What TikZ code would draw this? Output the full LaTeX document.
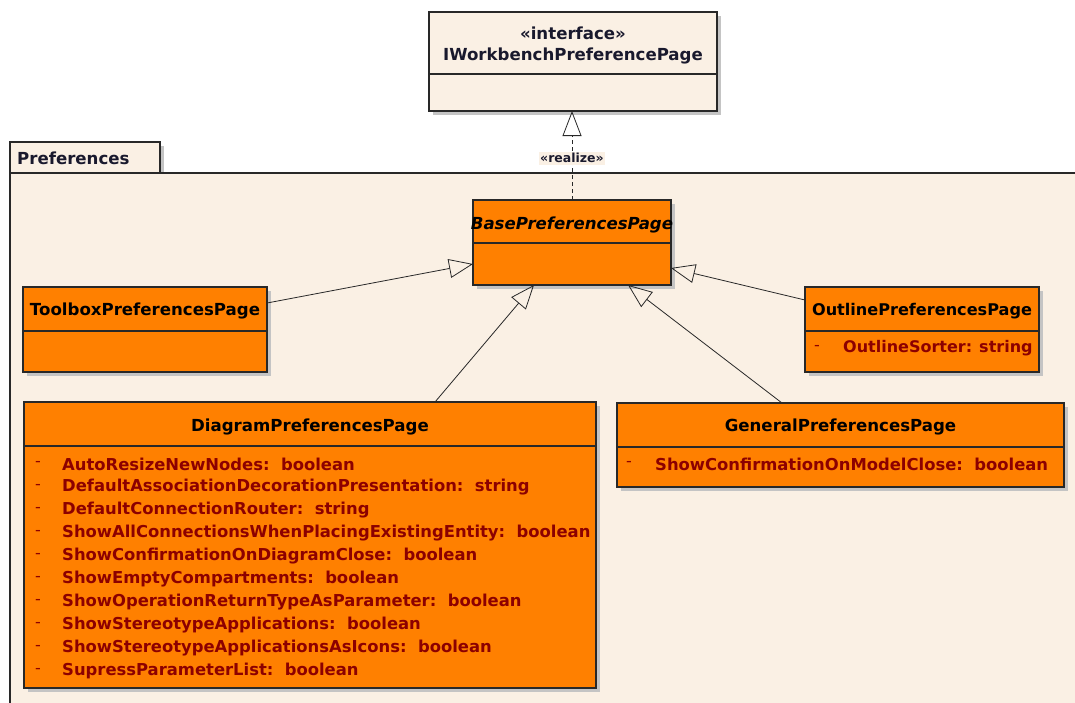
\documentclass[tikz,border=0pt]{standalone}
\usepackage{fontspec}
\setmainfont{DejaVu Sans}
\usetikzlibrary{arrows.meta,shadows,calc}
\definecolor{cream}{RGB}{250,240,228}
\definecolor{umlorange}{RGB}{255,128,0}
\definecolor{attrred}{RGB}{140,0,0}
\definecolor{edgegray}{RGB}{40,40,40}
\definecolor{shade}{RGB}{196,196,196}
\definecolor{inktext}{RGB}{25,25,45}
\tikzset{
  boxbase/.style={draw=edgegray, line width=1.1pt, rectangle, inner sep=0pt, outer sep=0pt,
    anchor=north west,
    drop shadow={shadow xshift=4pt, shadow yshift=-4pt, fill=shade, opacity=1}},
  classbox/.style={boxbase, fill=umlorange},
  ifacebox/.style={boxbase, fill=cream},
  titletext/.style={font=\bfseries\fontsize{16.6}{19}\selectfont, text=black, inner sep=0pt},
  attrtext/.style={font=\bfseries\fontsize{16.4}{19}\selectfont, text=attrred, inner sep=0pt, anchor=west},
  dashtext/.style={font=\fontsize{16}{19}\selectfont, text=attrred, inner sep=0pt, anchor=west},
  divider/.style={draw=edgegray, line width=1.1pt},
  gen/.style={draw=edgegray, line width=0.8pt, -{Triangle[open, length=24pt, width=19pt, line width=0.8pt]}},
  realize/.style={draw=edgegray, line width=0.8pt, dash pattern=on 4pt off 3pt,
    -{Triangle[open, length=25pt, width=19pt, line width=0.8pt, sep=0pt]}},
}
\begin{document}
\begin{tikzpicture}[x=1pt, y=-1pt]
  \useasboundingbox (0,0) rectangle (1075,702);
  \fill[white] (0,0) rectangle (1075,702);

  % package frame with its name tab
  \node[draw=edgegray, line width=1.1pt, fill=cream, anchor=north west, inner sep=0pt, outer sep=0pt,
        minimum width=150pt, minimum height=31pt,
        drop shadow={shadow xshift=4pt, shadow yshift=-4pt, fill=shade, opacity=1}] (pkgtab) at (10,142) {};
  \node[draw=edgegray, line width=1.1pt, fill=cream, anchor=north west, inner sep=0pt, outer sep=0pt,
        minimum width=1100pt, minimum height=560pt] (pkg) at (10,173) {};
  \node[titletext, text=inktext, anchor=west] (pkgname) at (17,158) {Preferences};

  % interface
  \node[ifacebox, minimum width=288pt, minimum height=99pt] (iface) at (429,12) {};
  \node[titletext, text=inktext] (iface-st) at ($(iface.north)+(0,21)$) {«interface»};
  \node[titletext, text=inktext] (iface-t) at ($(iface.north)+(0,44)$) {IWorkbenchPreferencePage};
  \draw[divider] ([yshift=-62pt]iface.north west) -- ([yshift=-62pt]iface.north east);

  % abstract base class
  \node[classbox, minimum width=198pt, minimum height=85pt] (base) at (473,200) {};
  \node[titletext] (base-t) at ($(base.north)+(0,25)$) {\itshape BasePreferencesPage};
  \draw[divider] ([yshift=-43pt]base.north west) -- ([yshift=-43pt]base.north east);

  % toolbox page
  \node[classbox, minimum width=244pt, minimum height=85pt] (toolbox) at (23,287) {};
  \node[titletext] (toolbox-t) at ($(toolbox.north)+(0,24)$) {ToolboxPreferencesPage};
  \draw[divider] ([yshift=-44pt]toolbox.north west) -- ([yshift=-44pt]toolbox.north east);

  % outline page
  \node[classbox, minimum width=234pt, minimum height=85pt] (outline) at (805,287) {};
  \node[titletext, font=\bfseries\fontsize{16.1}{19}\selectfont] (outline-t)
    at ($(outline.north)+(0,24)$) {OutlinePreferencesPage};
  \draw[divider] ([yshift=-44pt]outline.north west) -- ([yshift=-44pt]outline.north east);
  \node[dashtext] (o1m) at (814,348) {-};
  \node[attrtext, font=\bfseries\fontsize{16}{19}\selectfont] (o1) at (843,348) {OutlineSorter:\hspace{7pt}string};

  % diagram page
  \node[classbox, minimum width=572pt, minimum height=286pt] (diagram) at (24,402) {};
  \node[titletext] (diagram-t) at ($(diagram.north)+(0,25)$) {DiagramPreferencesPage};
  \draw[divider] ([yshift=-44pt]diagram.north west) -- ([yshift=-44pt]diagram.north east);
  \foreach \name/\txt [count=\i from 0] in {
      d1/{AutoResizeNewNodes:\ \ boolean},
      d2/{DefaultAssociationDecorationPresentation:\ \ string},
      d3/{DefaultConnectionRouter:\ \ string},
      d4/{ShowAllConnectionsWhenPlacingExistingEntity:\ \ boolean},
      d5/{ShowConfirmationOnDiagramClose:\ \ boolean},
      d6/{ShowEmptyCompartments:\ \ boolean},
      d7/{ShowOperationReturnTypeAsParameter:\ \ boolean},
      d8/{ShowStereotypeApplications:\ \ boolean},
      d9/{ShowStereotypeApplicationsAsIcons:\ \ boolean},
      d10/{SupressParameterList:\ \ boolean}} {
    \node[dashtext] (\name m) at (35,464+23*\i) {-};
    \node[attrtext] (\name) at (62,464+23*\i) {\txt};
  }

  % general page
  \node[classbox, minimum width=447pt, minimum height=84pt] (general) at (617,403) {};
  \node[titletext] (general-t) at ($(general.north)+(0,24)$) {GeneralPreferencesPage};
  \draw[divider] ([yshift=-44pt]general.north west) -- ([yshift=-44pt]general.north east);
  \node[dashtext] (g1m) at (626,464) {-};
  \node[attrtext] (g1) at (655,464) {ShowConfirmationOnModelClose:\ \ boolean};

  % realization of the interface
  \draw[realize] (base.north) -- (base.north |- iface.south)
    node[pos=0.47, fill=cream, inner sep=1.5pt, text=inktext,
         font=\bfseries\fontsize{12.5}{14}\selectfont] (realize-lbl) {«realize»};

  % generalizations
  \draw[gen] ([yshift=-16pt]toolbox.north east) -- ([yshift=-64pt]base.north west);
  \draw[gen] ([yshift=-13pt]outline.north west) -- ([yshift=-68pt]base.north east);
  \draw[gen] ([xshift=411pt]diagram.north west) -- ([xshift=61pt]base.south west);
  \draw[gen] ([xshift=165pt]general.north west) -- ([xshift=155pt]base.south west);
\end{tikzpicture}
\end{document}
